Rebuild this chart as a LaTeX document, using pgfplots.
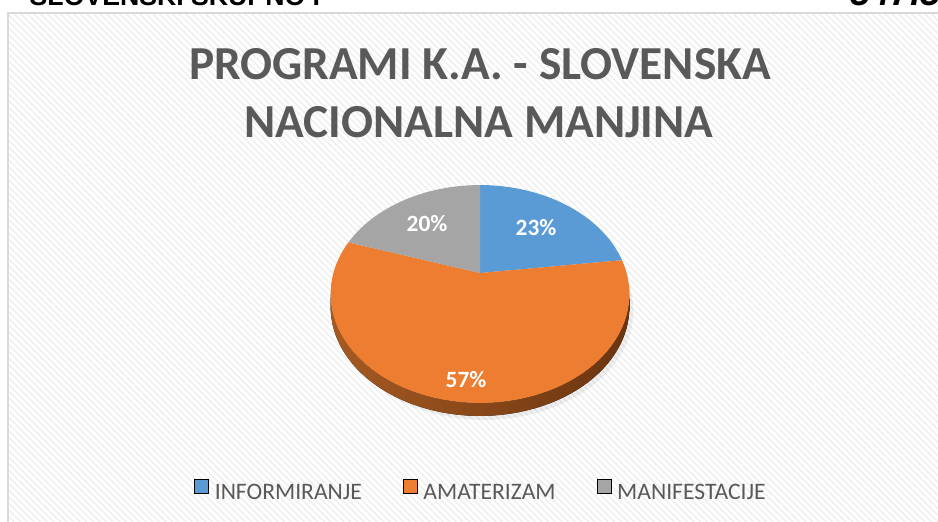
\documentclass[border=0pt]{standalone}
\usepackage{pgfplots}
\pgfplotsset{compat=1.18}
\usepackage{pgfplotstable}
\usepackage{fontspec}
\setmainfont{Carlito}
\newfontfamily\arialfont{Liberation Sans}
\usetikzlibrary{patterns.meta}

\definecolor{infoblue}{HTML}{5B9BD5}
\definecolor{amaorange}{HTML}{ED7D31}
\definecolor{mangray}{HTML}{A5A5A5}
\definecolor{sideL}{HTML}{A65A22}
\definecolor{sideR}{HTML}{6A3410}
\definecolor{titlegray}{HTML}{595959}
\definecolor{bordergray}{HTML}{D9D9D9}
\definecolor{hatch}{HTML}{EFEFEF}

\pgfplotstableread{
label value
INFORMIRANJE 23
AMATERIZAM 57
MANIFESTACIJE 20
}\piedata

% tilted pie: angle clockwise from 12 o'clock -> pixel position
\def\pieX#1{480+146.6*sin(#1)/(1+0.1926*cos(#1))}
\def\pieY#1{273-104.9*cos(#1)/(1+0.1926*cos(#1))}
\def\depth{13}

\begin{document}
\begin{tikzpicture}
\pgfplotstablegetelem{0}{value}\of\piedata \let\vA\pgfplotsretval
\pgfplotstablegetelem{1}{value}\of\piedata \let\vB\pgfplotsretval
\pgfplotstablegetelem{2}{value}\of\piedata \let\vC\pgfplotsretval
\pgfmathsetmacro\tot{\vA+\vB+\vC}
\pgfmathsetmacro\angA{\vA/\tot*360}
\pgfmathsetmacro\angB{(\vA+\vB)/\tot*360}
\begin{axis}[
  width=703.5pt, height=390.75pt, scale only axis,
  xmin=0, xmax=938, ymin=0, ymax=521, y dir=reverse,
  hide axis, clip=false,
  legend image code/.code={\fill[#1] (0pt,0pt) rectangle (10.5pt,10.5pt);},
  legend columns=3,
  legend style={at={(axis cs:480,490)}, anchor=center, draw=none, fill=none,
    inner sep=0pt, font=\fontsize{17.7}{20}\selectfont, text=titlegray,
    nodes={inner sep=0pt},
    /tikz/every odd column/.append style={column sep=4.5pt},
    /tikz/every even column/.append style={column sep=30.75pt}},
]
% chart area
\fill[white] (8,13) rectangle (960,540);
\fill[pattern={Lines[angle=-45,distance=3.5pt,line width=1.1pt]}, pattern color=hatch] (8,13) rectangle (960,540);
\draw[bordergray, line width=1.2pt] (8,540) -- (8,13) -- (960,13);
% text above the chart, cut by the page edge as in the source
\node[anchor=base west, font={\arialfont\fontsize{20}{24}\selectfont\bfseries}] at (25,5) {SLOVENSKI SKUPNO I};
\node[anchor=base west, font={\arialfont\fontsize{27}{30}\selectfont\bfseries\itshape}] at (846,5) {547.50};
% title
\node[anchor=base, text=titlegray, font={\fontsize{35.5}{40}\selectfont\bfseries}] at (480,79) {PROGRAMI K.A. - SLOVENSKA};
\node[anchor=base, text=titlegray, font={\fontsize{35.5}{40}\selectfont\bfseries}] at (479,137) {NACIONALNA MANJINA};
% soft shadow
\fill[black, opacity=0.06] plot[domain=0:360, samples=90, variable=\t] ({\pieX{\t}+4},{\pieY{\t}+\depth+4}) -- cycle;
% side of the pie
\fill[left color=sideL, right color=sideR]
  plot[domain=101.1:258.9, samples=60, variable=\t] ({\pieX{\t}},{\pieY{\t}})
  -- plot[domain=258.9:101.1, samples=60, variable=\t] ({\pieX{\t}},{\pieY{\t}+\depth}) -- cycle;
% slices
\fill[infoblue] (480,273) -- plot[domain=0:\angA, samples=40, variable=\t] ({\pieX{\t}},{\pieY{\t}}) -- cycle;
\fill[amaorange] (480,273) -- plot[domain=\angA:\angB, samples=90, variable=\t] ({\pieX{\t}},{\pieY{\t}}) -- cycle;
\fill[mangray] (480,273) -- plot[domain=\angB:360, samples=40, variable=\t] ({\pieX{\t}},{\pieY{\t}}) -- cycle;
% value labels
\node[text=white, font={\fontsize{17.5}{20}\selectfont\bfseries}] at (536,228) {\vA\%};
\node[text=white, font={\fontsize{17.5}{20}\selectfont\bfseries}] at (466,380) {\vB\%};
\node[text=white, font={\fontsize{17.5}{20}\selectfont\bfseries}] at (427,224) {\vC\%};
\addlegendimage{fill=infoblue}
\addlegendimage{fill=amaorange}
\addlegendimage{fill=mangray}
\legend{INFORMIRANJE, AMATERIZAM, MANIFESTACIJE}
\end{axis}
\pgfresetboundingbox
\useasboundingbox (current axis.south west) rectangle (current axis.north east);
\end{tikzpicture}
\end{document}
